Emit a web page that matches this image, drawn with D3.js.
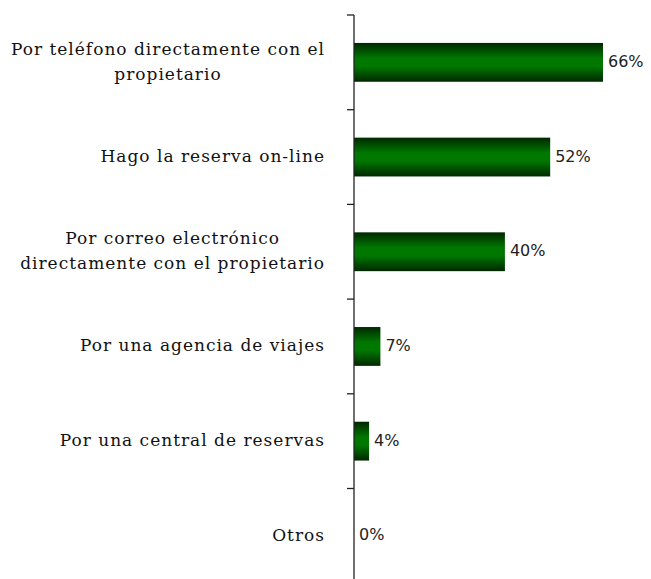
<!DOCTYPE html>
<html>
<head>
<meta charset="utf-8">
<script src="https://cdn.jsdelivr.net/npm/d3@7"></script>
<style>
  body { margin: 0; background: #fff; }
</style>
</head>
<body>
<svg id="chart" width="651" height="579"></svg>
<script>
const width = 651;
const height = 579;

const categories = [
    "Por teléfono directamente con el\npropietario",
    "Hago la reserva on-line",
    "Por correo electrónico\ndirectamente con el propietario",
    "Por una agencia de viajes",
    "Por una central de reservas",
    "Otros"
];
const values = [66, 52, 40, 7, 4, 0];

const margin = { top: 15, left: 354 };
const bandH = 94.7;
const labelRight = 325;

const svg = d3.select("#chart");

const x = d3.scaleLinear()
    .domain([0, 66])
    .range([margin.left, 603]);

const y = d3.scaleBand()
    .domain(categories)
    .range([margin.top, margin.top + bandH * categories.length])
    .paddingInner(0.59)
    .paddingOuter(0.295);

// gradient for the bars
const grad = svg.append("defs").append("linearGradient")
    .attr("id", "barGrad")
    .attr("x1", 0).attr("y1", 0).attr("x2", 0).attr("y2", 1);
grad.append("stop").attr("offset", "0%").attr("stop-color", "#002800");
grad.append("stop").attr("offset", "40%").attr("stop-color", "#007800");
grad.append("stop").attr("offset", "60%").attr("stop-color", "#007800");
grad.append("stop").attr("offset", "100%").attr("stop-color", "#002800");

// bars
svg.selectAll(".bar")
    .data(values)
    .enter().append("rect")
    .attr("class", "bar")
    .attr("x", x(0))
    .attr("y", (d, i) => y(categories[i]))
    .attr("width", d => x(d) - x(0))
    .attr("height", y.bandwidth())
    .attr("fill", "url(#barGrad)");

// value labels
svg.selectAll(".val")
    .data(values)
    .enter().append("text")
    .attr("class", "val")
    .attr("x", d => x(d) + 5)
    .attr("y", (d, i) => y(categories[i]) + y.bandwidth() / 2 - 1)
    .attr("dy", "0.35em")
    .attr("font-family", "DejaVu Sans, sans-serif")
    .attr("font-size", 16)
    .attr("fill", "#222")
    .text(d => d + "%");

// axis line with ticks on the left
const edges = d3.range(categories.length + 1).map(i => margin.top + i * bandH);
svg.append("line")
    .attr("x1", x(0)).attr("x2", x(0))
    .attr("y1", margin.top).attr("y2", edges[edges.length - 1])
    .attr("stroke", "#222").attr("stroke-width", 1.3);
svg.selectAll(".tick")
    .data(edges)
    .enter().append("line")
    .attr("x1", x(0) - 7).attr("x2", x(0))
    .attr("y1", d => d).attr("y2", d => d)
    .attr("stroke", "#222").attr("stroke-width", 1.3);

// category labels: block right-aligned, lines centred inside the block
svg.selectAll(".cat")
    .data(categories)
    .enter().append("text")
    .attr("class", "cat")
    .attr("text-anchor", "middle")
    .attr("font-family", "DejaVu Serif, serif")
    .attr("font-size", 17)
    .attr("letter-spacing", 1)
    .attr("fill", "#111")
    .each(function(d) {
        const lines = d.split("\n");
        const cy = y(d) + y.bandwidth() / 2 - 1;
        const lh = 25;
        const t = d3.select(this);
        const spans = lines.map((ln, j) => t.append("tspan")
            .attr("y", cy + (j - (lines.length - 1) / 2) * lh)
            .attr("dy", "0.35em")
            .text(ln));
        const maxW = d3.max(spans, s => s.node().getComputedTextLength());
        spans.forEach(s => s.attr("x", labelRight - maxW / 2));
    });
</script>
</body>
</html>
